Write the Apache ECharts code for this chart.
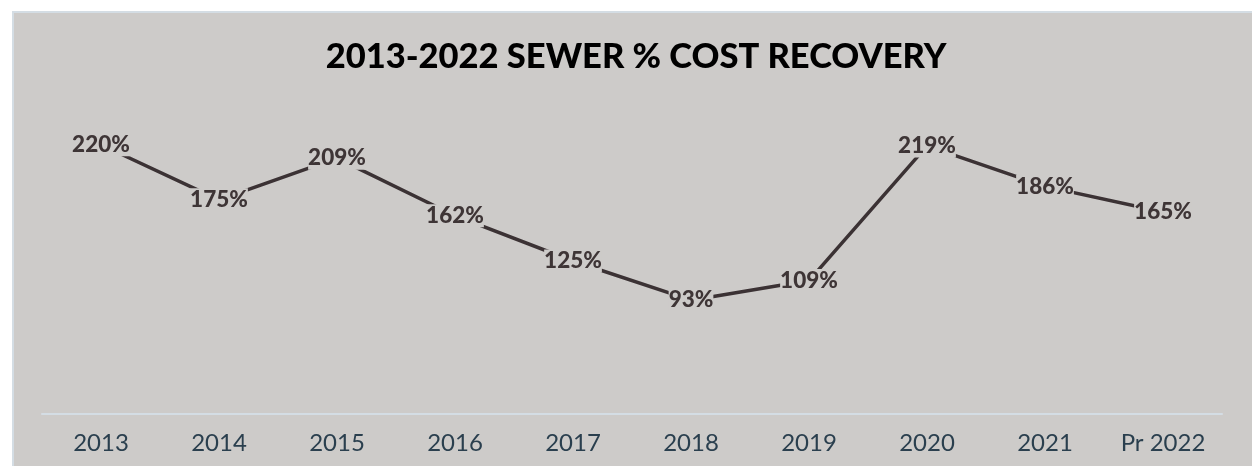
<!DOCTYPE html>
<html>
<head>
<meta charset="utf-8">
<style>
  html, body { margin: 0; padding: 0; background: #ffffff; }
  .frame {
    position: absolute; left: 12px; top: 11px; right: 0; bottom: 0;
    background: #cdcbc9;
    border-top: 2px solid #d4dde4;
    border-left: 2px solid #d4dde4;
  }
  #recovery { position: absolute; left: 0; top: 0; width: 1252px; height: 466px; }
</style>
<script src="https://cdn.jsdelivr.net/npm/echarts@6/dist/echarts.min.js"></script>
</head>
<body>
<div class="frame"></div>
<div id="recovery"></div>
<script>
// sewer cost recovery, percent
var years = ['2013', '2014', '2015', '2016', '2017', '2018', '2019', '2020', '2021', 'Pr 2022'];
var recovery = [220, 175, 209, 162, 125, 93, 109, 219, 186, 165];

var chart = echarts.init(document.getElementById('recovery'));
var option = {
  backgroundColor: 'transparent',
  title: {
    text: '2013-2022 SEWER % COST RECOVERY',
    left: 631,
    top: 34,
    textAlign: 'center',
    textStyle: {
      fontFamily: 'Lato',
      fontWeight: 900,
      fontSize: 34.5,
      color: '#000000'
    }
  },
  grid: {
    left: 42,
    right: 30,
    top: 108,
    bottom: 52
  },
  xAxis: {
    type: 'category',
    data: years,
    boundaryGap: true,
    axisTick: { show: false },
    axisLine: {
      lineStyle: { color: '#d4dde4', width: 2 }
    },
    axisLabel: {
      margin: 17,
      fontFamily: 'Lato',
      fontSize: 24,
      color: '#2a3f4e'
    }
  },
  yAxis: {
    type: 'value',
    min: 0,
    max: 250,
    show: false,
    splitLine: { show: false }
  },
  series: [
    {
      name: 'recovery',
      type: 'line',
      data: recovery,
      symbol: 'circle',
      symbolSize: 1,
      showSymbol: true,
      silent: true,
      itemStyle: { color: 'rgba(0,0,0,0)' },
      lineStyle: { color: '#3b3234', width: 3.5 },
      label: {
        show: true,
        position: 'inside',
        formatter: '{c}%',
        fontFamily: 'Lato',
        fontWeight: 900,
        fontSize: 22.5,
        color: '#3e3536',
        backgroundColor: '#cdcbc9',
        padding: [0, 0]
      }
    }
  ]
};
chart.setOption(option);
</script>
</body>
</html>
